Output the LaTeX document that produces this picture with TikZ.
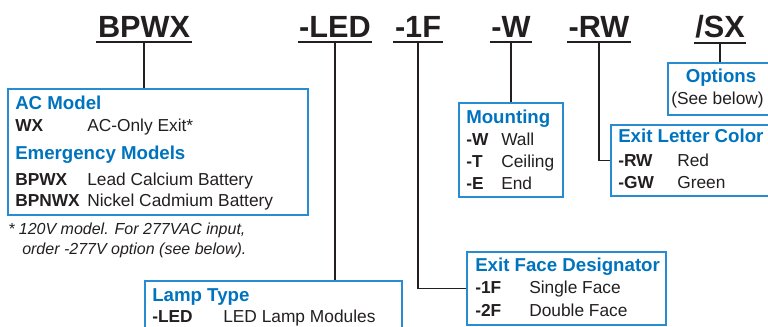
\documentclass[tikz,border=0pt]{standalone}
\usepackage{fontspec}
\setmainfont{Liberation Sans}
\usetikzlibrary{positioning,fit}
\definecolor{codeblue}{RGB}{0,115,190}
\definecolor{boxblue}{RGB}{40,140,210}
\definecolor{inkgray}{RGB}{35,31,32}

\tikzset{
    title/.style={font=\fontsize{23}{26}\selectfont\bfseries, text=inkgray,
        anchor=base, inner xsep=1pt, inner ysep=3pt},
    box/.style={draw=boxblue, line width=1pt, inner sep=0pt},
    head/.style={font=\fontsize{14}{16}\selectfont\bfseries, text=codeblue,
        anchor=base west, inner sep=0pt},
    key/.style={font=\fontsize{13}{15}\selectfont\bfseries, text=inkgray,
        anchor=base west, inner sep=0pt},
    val/.style={font=\fontsize{13}{15}\selectfont, text=inkgray,
        anchor=base west, inner sep=0pt},
    note/.style={font=\fontsize{12}{14}\selectfont\itshape, text=inkgray,
        anchor=base west, inner sep=0pt},
    link/.style={draw=inkgray, line width=1pt},
    uline/.style={draw=inkgray, line width=1.5pt}
}

\begin{document}
\begin{tikzpicture}[x=0.75pt, y=-0.75pt]
    \useasboundingbox (0,0) rectangle (768,327);

    % part number
    \node[title] (tBPWX) at (144,38) {BPWX};
    \node[title] (tLED)  at (335,38) {-LED};
    \node[title] (t1F)   at (418,38) {-1F};
    \node[title] (tW)    at (511,38) {-W};
    \node[title] (tRW)   at (599,38) {-RW};
    \node[title] (tSX)   at (720,38) {/SX};
    \foreach \t in {tBPWX,tLED,t1F,tW,tRW,tSX}
        \draw[uline] (\t.south west) -- (\t.south east);

    % boxes
    \node[box, fit={(8,89) (308,215)}]   (acbox) {};
    \node[box, fit={(145,281) (402,345)}] (lampbox) {};
    \node[box, fit={(467,252) (666,325)}] (facebox) {};
    \node[box, fit={(459,103) (563,197)}] (mountbox) {};
    \node[box, fit={(611,125) (785,196)}] (colorbox) {};
    \node[box, fit={(668,63) (785,115)}]  (optbox) {};

    % model
    \node[head] (acHead) at (15,110) {AC Model};
    \node[key]  (acK1) at (15,132) {WX};
    \node[val]  (acV1) at (87,132) {AC-Only Exit*};
    \node[head] (emHead) at (15,160) {Emergency Models};
    \node[key]  (emK1) at (15,186) {BPWX};
    \node[val]  (emV1) at (87,186) {Lead Calcium Battery};
    \node[key]  (emK2) at (15,207) {BPNWX};
    \node[val]  (emV2) at (87,207) {Nickel Cadmium Battery};
    \node[note] (note1) at (8,235) {* 120V model. For 277VAC input,};
    \node[note] (note2) at (22,255) {order -277V option (see below).};

    % lamp
    \node[head] (lampHead) at (152,302) {Lamp Type};
    \node[key]  (lampK1) at (152,323) {-LED};
    \node[val]  (lampV1) at (223,323) {LED Lamp Modules};

    % face
    \node[head] (faceHead) at (475,272) {Exit Face Designator};
    \node[key]  (faceK1) at (475,294) {-1F};
    \node[val]  (faceV1) at (529,294) {Single Face};
    \node[key]  (faceK2) at (475,317) {-2F};
    \node[val]  (faceV2) at (529,317) {Double Face};

    % mounting
    \node[head] (mountHead) at (466,124) {Mounting};
    \node[key]  (mountK1) at (466,146) {-W};
    \node[val]  (mountV1) at (501,146) {Wall};
    \node[key]  (mountK2) at (466,168) {-T};
    \node[val]  (mountV2) at (501,168) {Ceiling};
    \node[key]  (mountK3) at (466,190) {-E};
    \node[val]  (mountV3) at (501,190) {End};

    % letter colour
    \node[head] (colorHead) at (618,143) {Exit Letter Color};
    \node[key]  (colorK1) at (618,167) {-RW};
    \node[val]  (colorV1) at (677,167) {Red};
    \node[key]  (colorK2) at (618,189) {-GW};
    \node[val]  (colorV2) at (677,189) {Green};

    % options
    \node[head, anchor=base] (optHead) at (721,83) {Options};
    \node[val] (optV1) at (671,105) {(See below)};

    % connectors
    \draw[link] (tBPWX.south) -- (tBPWX.south |- acbox.north);
    \draw[link] (tLED.south) -- (tLED.south |- lampbox.north);
    \draw[link] (t1F.south) |- (facebox.west);
    \draw[link] (tW.south) -- (tW.south |- mountbox.north);
    \draw[link] (tRW.south) |- (colorbox.west);
    \draw[link] (tSX.south) -- (tSX.south |- optbox.north);
\end{tikzpicture}
\end{document}
